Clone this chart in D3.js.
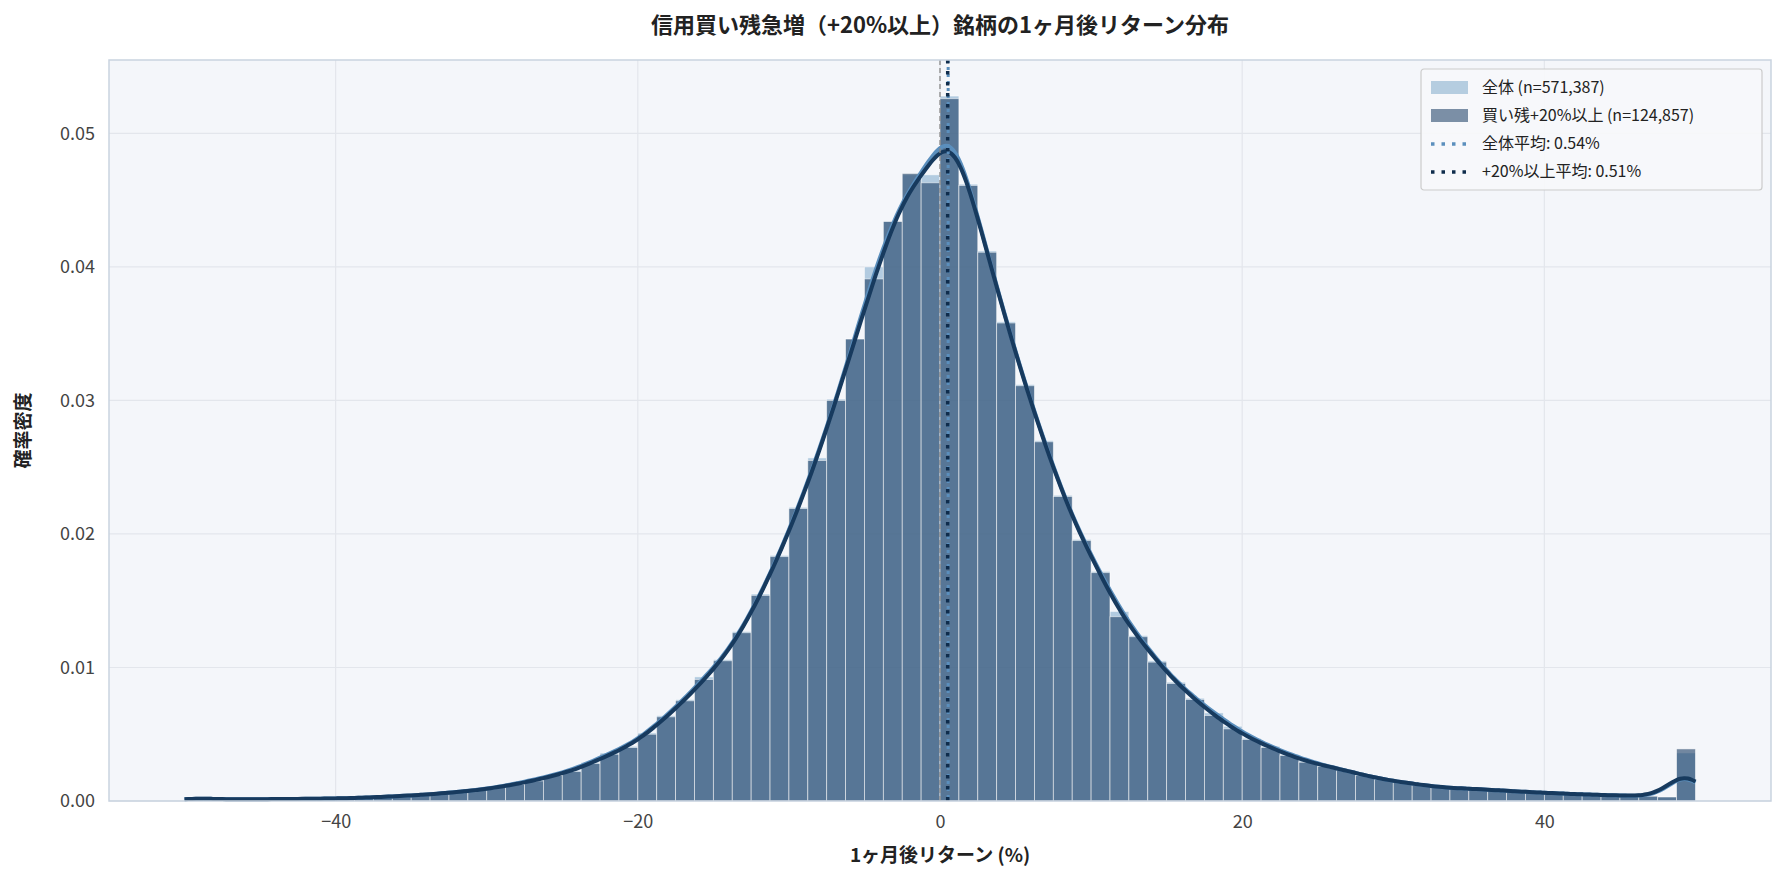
<!DOCTYPE html>
<html>
<head>
<meta charset="utf-8">
<script src="https://cdn.jsdelivr.net/npm/d3@7"></script>
<style>
body { margin:0; background:#fff; font-family:"Noto Sans CJK JP","Noto Sans",sans-serif; }
</style>
</head>
<body>
<script>
var width = 1786, height = 883;
var margin = {top:60, right:15, bottom:82, left:109};

// bin left edges, width 1.25 from -50 to 50
var binWidth = 1.25;
var binStarts = d3.range(80).map(function(i){ return -50 + i*binWidth; });

// 買い残+20%以上 density per bin
var surgeVals = [
  0.0003,0.00012,0.00012,0.00013,0.00014,0.00015,0.00016,0.00018,
  0.0002,0.00025,0.0003,0.00038,0.00045,0.00055,0.00068,0.0008,
  0.001,0.00125,0.0015,0.0019,0.0022,0.0028,0.0035,0.004,
  0.005,0.0063,0.0075,0.0091,0.0105,0.0126,0.0154,0.0183,
  0.0219,0.0255,0.03,0.0346,0.0391,0.0434,0.047,0.0463,
  0.0526,0.0461,0.0411,0.0358,0.0311,0.0269,0.0228,0.0195,
  0.0171,0.0138,0.0123,0.0104,0.0088,0.0076,0.0064,0.0054,
  0.0046,0.004,0.0034,0.0029,0.0026,0.0023,0.0019,0.0016,
  0.0014,0.0012,0.001,0.00095,0.0009,0.0008,0.00072,0.00065,
  0.00058,0.00052,0.00047,0.00043,0.0004,0.00036,0.0003,0.0039
];
// 全体 density per bin
var allVals = [
  0.0003,0.00012,0.00012,0.00013,0.00014,0.00015,0.00016,0.00018,
  0.0002,0.00025,0.0003,0.00038,0.00045,0.00055,0.0007,0.00082,
  0.001,0.0013,0.0016,0.0019,0.0023,0.0029,0.0036,0.0041,
  0.0051,0.0064,0.0076,0.0093,0.0106,0.0127,0.0155,0.0184,
  0.022,0.0257,0.0301,0.0346,0.04,0.0434,0.0469,0.0469,
  0.0528,0.0462,0.0412,0.0359,0.0312,0.027,0.0229,0.0196,
  0.0172,0.0142,0.0124,0.0105,0.0089,0.0077,0.0066,0.0056,
  0.0047,0.0041,0.0035,0.003,0.0026,0.0023,0.0019,0.0016,
  0.0014,0.0012,0.001,0.00095,0.0009,0.0008,0.00072,0.00065,
  0.00058,0.00052,0.00047,0.00043,0.0004,0.00034,0.0003,0.0036
];

var meanAll = 0.54, meanSurge = 0.51;
var xTicks = [-40,-20,0,20,40];
var yTicks = [0,0.01,0.02,0.03,0.04,0.05];
var legendLabels = ["全体 (n=571,387)","買い残+20%以上 (n=124,857)","全体平均: 0.54%","+20%以上平均: 0.51%"];

var svg = d3.select("body").append("svg").attr("width",width).attr("height",height);

var x = d3.scaleLinear().domain([-55,55]).range([margin.left, width-margin.right]);
var y = d3.scaleLinear().domain([0,0.0555]).range([height-margin.bottom, margin.top]);

svg.append("rect")
  .attr("x",margin.left).attr("y",margin.top)
  .attr("width",width-margin.left-margin.right)
  .attr("height",height-margin.top-margin.bottom)
  .attr("fill","#f4f6fa");

// grid
svg.append("g").selectAll("line").data(xTicks).join("line")
  .attr("x1",d=>x(d)).attr("x2",d=>x(d))
  .attr("y1",margin.top).attr("y2",height-margin.bottom)
  .attr("stroke","#e3e6ec").attr("stroke-width",1.2);
svg.append("g").selectAll("line").data(yTicks).join("line")
  .attr("x1",margin.left).attr("x2",width-margin.right)
  .attr("y1",d=>y(d)).attr("y2",d=>y(d))
  .attr("stroke","#e3e6ec").attr("stroke-width",1.2);

function drawBars(vals, fill, op){
  svg.append("g").selectAll("rect").data(vals).join("rect")
    .attr("x",(d,i)=>x(binStarts[i]))
    .attr("width",(d,i)=>x(binStarts[i]+binWidth)-x(binStarts[i]))
    .attr("y",d=>y(d))
    .attr("height",d=>y(0)-y(d))
    .attr("fill",fill).attr("fill-opacity",op)
    .attr("stroke","#ffffff").attr("stroke-opacity",0.6).attr("stroke-width",0.8);
}
drawBars(allVals,"#8fb3d3",0.65);
drawBars(surgeVals,"#1b3e64",0.6);

// smoothed density from bins
function smooth(vals, bw){
  var pts = d3.range(-50, 50.01, 0.25);
  return pts.map(function(p){
    var s = 0;
    vals.forEach(function(v,i){
      var c = binStarts[i]+binWidth/2, u = (p-c)/bw;
      s += v*binWidth*Math.exp(-0.5*u*u)/(bw*Math.sqrt(2*Math.PI));
    });
    return [p,s];
  });
}
var line = d3.line().x(d=>x(d[0])).y(d=>y(d[1])).curve(d3.curveBasis);
svg.append("path").datum(smooth(allVals,1.15)).attr("d",line)
  .attr("fill","none").attr("stroke","#5b8fbd").attr("stroke-width",4);
svg.append("path").datum(smooth(surgeVals,1.2)).attr("d",line)
  .attr("fill","none").attr("stroke","#173a5e").attr("stroke-width",4);

// zero line and means
svg.append("line").attr("x1",x(0)).attr("x2",x(0)).attr("y1",margin.top).attr("y2",height-margin.bottom)
  .attr("stroke","#888").attr("stroke-width",1.3).attr("stroke-dasharray","5,3");
svg.append("line").attr("x1",x(meanAll)).attr("x2",x(meanAll)).attr("y1",margin.top).attr("y2",height-margin.bottom)
  .attr("stroke","#5b8fbd").attr("stroke-width",3).attr("stroke-dasharray","3,4");
svg.append("line").attr("x1",x(meanSurge)).attr("x2",x(meanSurge)).attr("y1",margin.top).attr("y2",height-margin.bottom)
  .attr("stroke","#0f2c4c").attr("stroke-width",3.5).attr("stroke-dasharray","3.5,7.5");

// frame
svg.append("rect")
  .attr("x",margin.left).attr("y",margin.top)
  .attr("width",width-margin.left-margin.right)
  .attr("height",height-margin.top-margin.bottom)
  .attr("fill","none").attr("stroke","#c9d3df").attr("stroke-width",1.5);

// axes
var xAxis = svg.append("g").attr("transform","translate(0,"+(height-margin.bottom)+")")
  .call(d3.axisBottom(x).tickValues(xTicks).tickSize(0).tickPadding(14).tickFormat(d3.format("d")));
var yAxis = svg.append("g").attr("transform","translate("+margin.left+",0)")
  .call(d3.axisLeft(y).tickValues(yTicks).tickSize(0).tickPadding(14).tickFormat(d3.format(".2f")));
[xAxis,yAxis].forEach(function(a){
  a.select(".domain").remove();
  a.selectAll("text").attr("font-size",18).attr("fill","#444").attr("font-family","'Noto Sans CJK JP',sans-serif");
});

svg.append("text").attr("x",(margin.left+width-margin.right)/2).attr("y",33)
  .attr("text-anchor","middle").attr("font-size",22).attr("font-weight","bold").attr("fill","#222")
  .text("信用買い残急増（+20%以上）銘柄の1ヶ月後リターン分布");
svg.append("text").attr("x",x(0)).attr("y",862)
  .attr("text-anchor","middle").attr("font-size",19).attr("font-weight","bold").attr("fill","#222")
  .text("1ヶ月後リターン (%)");
svg.append("text").attr("transform","translate(30,"+((margin.top+height-margin.bottom)/2)+") rotate(-90)")
  .attr("text-anchor","middle").attr("font-size",19).attr("font-weight","bold").attr("fill","#222")
  .text("確率密度");

// legend
var lg = svg.append("g").attr("transform","translate(1421,69)");
lg.append("rect").attr("width",341).attr("height",121).attr("rx",3)
  .attr("fill","#f7f8fb").attr("fill-opacity",0.9).attr("stroke","#cccccc").attr("stroke-width",1.2);
legendLabels.forEach(function(t,i){
  var cy = 19 + i*28;
  if(i<2){
    lg.append("rect").attr("x",10).attr("y",cy-7).attr("width",37).attr("height",13)
      .attr("fill",i==0?"#b5cde0":"#7b8fa6");
  } else {
    lg.append("line").attr("x1",10).attr("x2",47).attr("y1",cy).attr("y2",cy)
      .attr("stroke",i==2?"#5b8fbd":"#0f2c4c").attr("stroke-width",3.5).attr("stroke-dasharray","3.5,7");
  }
  lg.append("text").attr("x",61).attr("y",cy+5).attr("font-size",16).attr("fill","#222").text(t);
});
</script>
</body>
</html>
